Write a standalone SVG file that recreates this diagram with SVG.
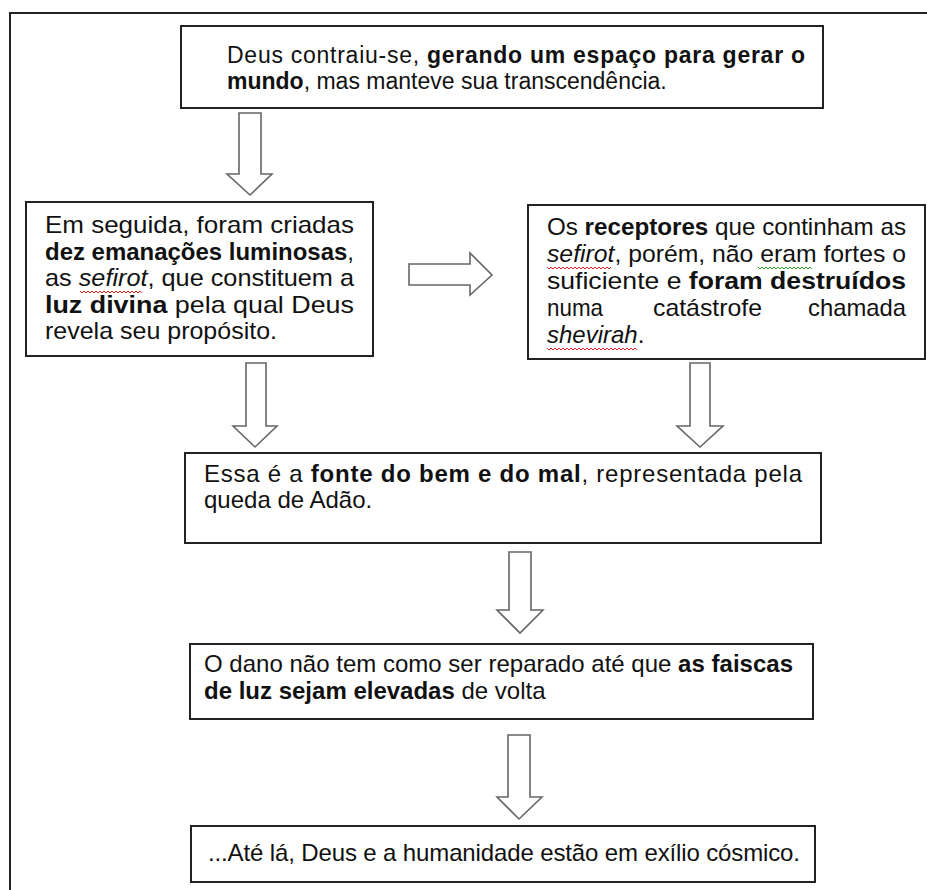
<svg xmlns="http://www.w3.org/2000/svg" width="927" height="890" viewBox="0 0 927 890">
<style>
.frame{fill:none;stroke:#222;stroke-width:2}
.box{fill:#fff;stroke:#222;stroke-width:2}
.arr{fill:#fff;stroke:#666;stroke-width:1.6;stroke-linejoin:miter}
.t{font-family:"Liberation Sans",Arial,sans-serif;font-size:24px;fill:#111}
.s23{font-size:23px}
.b{font-weight:bold}
.i{font-style:italic}
.sq{fill:none;stroke-width:1}
</style>
<rect class="frame" x="10" y="13" width="940" height="900"/>
<g id="connectors">
<polygon class="arr" points="239,113 261,113 261,174 272,174 250,195 227,174 239,174"/>
<polygon class="arr" points="409,264 470,264 470,253 492,275 470,295 470,285 409,285"/>
<polygon class="arr" points="246,363 266,363 266,426 277,426 255,447 233,426 246,426"/>
<polygon class="arr" points="690,363 710,363 710,426 723,426 700,447 677,426 690,426"/>
<polygon class="arr" points="509,552 531,552 531,610 543,610 520,633 497,610 509,610"/>
<polygon class="arr" points="508,735 530,735 530,797 542,797 519,819 497,797 508,797"/>
</g>
<g id="n1">
<rect class="box" x="181" y="26" width="642" height="82"/>
<text class="t s23" x="227" y="63" textLength="578" lengthAdjust="spacing">Deus contraiu-se, <tspan class="b">gerando um espaço para gerar o</tspan></text>
<text class="t s23" x="227" y="89"><tspan class="b">mundo</tspan>, mas manteve sua transcendência.</text>
</g>
<g id="n2">
<rect class="box" x="26" y="202" width="347" height="154"/>
<text class="t" x="45" y="233" textLength="309" lengthAdjust="spacingAndGlyphs">Em seguida, foram criadas</text>
<text class="t" x="45" y="260" textLength="309" lengthAdjust="spacingAndGlyphs"><tspan class="b">dez emanações luminosas</tspan>,</text>
<text class="t" x="45" y="286" textLength="309" lengthAdjust="spacingAndGlyphs">as <tspan class="i">sefirot</tspan>, que constituem a</text>
<text class="t" x="45" y="313" textLength="309" lengthAdjust="spacingAndGlyphs"><tspan class="b">luz divina</tspan> pela qual Deus</text>
<text class="t" x="45" y="339" textLength="232" lengthAdjust="spacingAndGlyphs">revela seu propósito.</text>
<path class="sq" stroke="#e02020" d="M80,291 l2,2 l2,-2 l2,2 l2,-2 l2,2 l2,-2 l2,2 l2,-2 l2,2 l2,-2 l2,2 l2,-2 l2,2 l2,-2 l2,2 l2,-2 l2,2 l2,-2 l2,2 l2,-2 l2,2 l2,-2 l2,2 l2,-2 l2,2 l2,-2 l2,2 l2,-2 l2,2 l2,-2 l2,2"/>
</g>
<g id="n3">
<rect class="box" x="528" y="205" width="397" height="154"/>
<text class="t" x="547" y="235" textLength="359" lengthAdjust="spacingAndGlyphs">Os <tspan class="b">receptores</tspan> que continham as</text>
<text class="t" x="547" y="262" textLength="359" lengthAdjust="spacingAndGlyphs"><tspan class="i">sefirot</tspan>, porém, não eram fortes o</text>
<text class="t" x="547" y="289" textLength="359" lengthAdjust="spacingAndGlyphs">suficiente e <tspan class="b">foram destruídos</tspan></text>
<text class="t" x="547" y="316" textLength="56" lengthAdjust="spacingAndGlyphs">numa</text>
<text class="t" x="653" y="316" textLength="109" lengthAdjust="spacingAndGlyphs">catástrofe</text>
<text class="t" x="808" y="316" textLength="98" lengthAdjust="spacingAndGlyphs">chamada</text>
<text class="t" x="547" y="343"><tspan class="i">shevirah</tspan>.</text>
<path class="sq" stroke="#e02020" d="M547,267 l2,2 l2,-2 l2,2 l2,-2 l2,2 l2,-2 l2,2 l2,-2 l2,2 l2,-2 l2,2 l2,-2 l2,2 l2,-2 l2,2 l2,-2 l2,2 l2,-2 l2,2 l2,-2 l2,2 l2,-2 l2,2 l2,-2 l2,2 l2,-2 l2,2 l2,-2 l2,2 l2,-2 l2,2 l2,-2"/>
<path class="sq" stroke="#30a030" d="M758,267 l2,2 l2,-2 l2,2 l2,-2 l2,2 l2,-2 l2,2 l2,-2 l2,2 l2,-2 l2,2 l2,-2 l2,2 l2,-2 l2,2 l2,-2 l2,2 l2,-2 l2,2 l2,-2 l2,2 l2,-2 l2,2 l2,-2 l2,2 l2,-2 l2,2"/>
<path class="sq" stroke="#e02020" d="M547,348 l2,2 l2,-2 l2,2 l2,-2 l2,2 l2,-2 l2,2 l2,-2 l2,2 l2,-2 l2,2 l2,-2 l2,2 l2,-2 l2,2 l2,-2 l2,2 l2,-2 l2,2 l2,-2 l2,2 l2,-2 l2,2 l2,-2 l2,2 l2,-2 l2,2 l2,-2 l2,2 l2,-2 l2,2 l2,-2 l2,2 l2,-2 l2,2 l2,-2 l2,2 l2,-2 l2,2 l2,-2 l2,2 l2,-2 l2,2 l2,-2 l2,2"/>
</g>
<g id="n4">
<rect class="box" x="185" y="453" width="636" height="90"/>
<text class="t" x="204" y="482" textLength="598" lengthAdjust="spacing">Essa é a <tspan class="b">fonte do bem e do mal</tspan>, representada pela</text>
<text class="t" x="204" y="508">queda de Adão.</text>
</g>
<g id="n5">
<rect class="box" x="190" y="644" width="623" height="75"/>
<text class="t" x="204" y="672" textLength="589" lengthAdjust="spacing">O dano não tem como ser reparado até que <tspan class="b">as faiscas</tspan></text>
<text class="t" x="204" y="699"><tspan class="b">de luz sejam elevadas</tspan> de volta</text>
</g>
<g id="n6">
<rect class="box" x="191" y="826" width="624" height="56"/>
<text class="t" x="208" y="861" textLength="592" lengthAdjust="spacing">...Até lá, Deus e a humanidade estão em exílio cósmico.</text>
</g>
</svg>
